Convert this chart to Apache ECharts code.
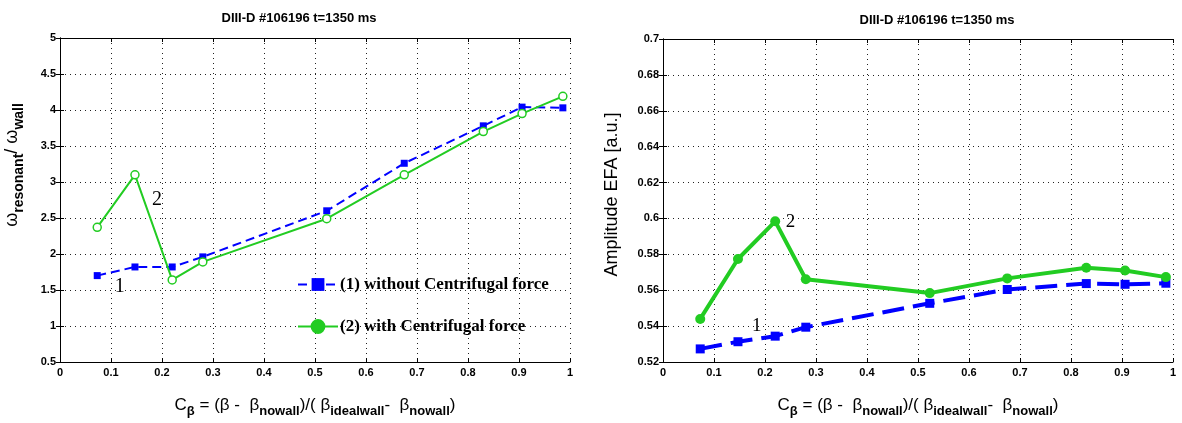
<html>
<head>
<meta http-equiv="Content-Type" content="text/html; charset=utf-8" />
<script src="https://cdn.jsdelivr.net/npm/echarts@6/dist/echarts.min.js"></script>
</head>
<body style="margin:0">
<div id="main" style="width:1182px;height:423px;"></div>
<script type="text/javascript">
// C_beta values (same for both panels)
var cbeta = [0.073, 0.147, 0.22, 0.28, 0.523, 0.675, 0.83, 0.906, 0.986];
// left panel: omega_resonant / omega_wall
var omegaNoCf = [1.70, 1.82, 1.82, 1.96, 2.60, 3.26, 3.78, 4.04, 4.03];
var omegaCf = [2.37, 3.10, 1.64, 1.89, 2.49, 3.10, 3.70, 3.95, 4.19];
// right panel: amplitude EFA
var efaNoCf = [0.5273, 0.5313, 0.5344, 0.5394, 0.5527, 0.5604, 0.5637, 0.5633, 0.5639];
var efaCf = [0.544, 0.5774, 0.5984, 0.5661, 0.5584, 0.5666, 0.5725, 0.571, 0.5673];

var titleText = 'DIII-D #106196 t=1350 ms';
var legendNames = ['(1) without Centrifugal force', '(2) with Centrifugal force'];

var BLUE = '#0000ff', GREEN = '#22cc22';
var SANS = 'Liberation Sans', SERIF = 'Liberation Serif';

function pairs(xs, ys) {
    return xs.map(function (x, i) { return [x, ys[i]]; });
}

var subRich = {
    m: { fontSize: 17, fontFamily: SANS, color: '#000' },
    s: { fontSize: 13, fontFamily: SANS, fontWeight: 'bold', color: '#000', padding: [13, 0, 0, 0] }
};
var xName = '{m|C}{s|β}{m| = (β -  β}{s|nowall}{m|)/( β}{s|idealwall}{m|-  β}{s|nowall}{m|)}';

var tickLabel = { fontSize: 11, fontWeight: 'bold', fontFamily: SANS, color: '#000' };
var dots = { color: '#222', type: [1, 4], width: 1 };
var titleStyle = { fontSize: 13, fontWeight: 'bold', fontFamily: SANS, color: '#000' };

function mainX(gi) {
    return {
        type: 'value', gridIndex: gi, min: 0, max: 1, interval: 0.1,
        axisLine: { lineStyle: { color: '#000', width: 1 } },
        axisTick: { inside: true, length: 4, lineStyle: { color: '#000' } },
        axisLabel: { margin: 5, textStyle: tickLabel },
        splitLine: { show: true, lineStyle: dots },
        name: xName, nameLocation: 'middle', nameGap: 30,
        nameTextStyle: { rich: subRich }
    };
}
function frameX(gi) {
    return {
        type: 'value', gridIndex: gi, position: 'top', min: 0, max: 1, interval: 0.1,
        axisLine: { lineStyle: { color: '#000' } },
        axisTick: { inside: true, length: 4, lineStyle: { color: '#000' } },
        axisLabel: { show: false }, splitLine: { show: false }
    };
}
function mainY(gi, min, max, step, digits, name, nameStyle, gap) {
    return {
        type: 'value', gridIndex: gi, min: min, max: max, interval: step,
        axisLine: { lineStyle: { color: '#000' } },
        axisTick: { inside: true, length: 4, lineStyle: { color: '#000' } },
        axisLabel: { margin: 4, textStyle: tickLabel,
            formatter: function (v) { return String(+v.toFixed(digits)); } },
        splitLine: { show: true, lineStyle: dots },
        name: name, nameLocation: 'middle', nameRotate: 90,
        nameGap: gap,
        nameTextStyle: nameStyle
    };
}
function frameY(gi, min, max, step) {
    return {
        type: 'value', gridIndex: gi, position: 'right', min: min, max: max, interval: step,
        axisLine: { lineStyle: { color: '#000' } },
        axisTick: { inside: true, length: 4, lineStyle: { color: '#000' } },
        axisLabel: { show: false }, splitLine: { show: false }
    };
}

function tag(txt, x, y, size) {
    return {
        coord: [x, y], symbol: 'circle', symbolSize: 0, value: txt,
        label: { show: true, position: 'inside', formatter: txt, color: '#000',
            fontFamily: SERIF, fontSize: size }
    };
}

var myChart = echarts.init(document.getElementById('main'));
myChart.setOption({
    animation: false,
    backgroundColor: '#fff',
    title: [
        { text: titleText, left: 294, top: 7, textAlign: 'center', textStyle: titleStyle },
        { text: titleText, left: 932, top: 9, textAlign: 'center', textStyle: titleStyle }
    ],
    grid: [
        { left: 60, top: 38, width: 510, height: 326 },
        { left: 663, top: 39, width: 510, height: 326 }
    ],
    legend: {
        orient: 'vertical', left: 292, top: 271, itemGap: 25, itemWidth: 40, itemHeight: 16,
        textStyle: { fontFamily: SERIF, fontSize: 17, fontWeight: 'bold', color: '#000', padding: [0, 0, 0, -3] },
        data: [
            { name: legendNames[0] },
            { name: legendNames[1], itemStyle: { color: GREEN, borderColor: GREEN } }
        ]
    },
    xAxis: [mainX(0), frameX(0), mainX(1), frameX(1)],
    yAxis: [
        mainY(0, 0.5, 5, 0.5, 1,
            '{m|ω}{s|resonant}{m|/ ω}{s|wall}',
            { rich: { m: { fontSize: 18, fontFamily: SANS, color: '#000' },
                      s: { fontSize: 14, fontFamily: SANS, fontWeight: 'bold', color: '#000', padding: [13, 0, 0, 0] } },
              padding: [0, 0, 0, 70] }, 34),
        frameY(0, 0.5, 5, 0.5),
        mainY(1, 0.52, 0.7, 0.02, 2, 'Amplitude EFA [a.u.]',
            { fontSize: 18, fontFamily: SANS, color: '#000', padding: [0, 0, 0, 12] }, 42),
        frameY(1, 0.52, 0.7, 0.02)
    ],
    series: [
        {
            name: legendNames[0], type: 'line', xAxisIndex: 0, yAxisIndex: 0,
            data: pairs(cbeta, omegaNoCf),
            symbol: 'rect', symbolSize: 7,
            itemStyle: { color: BLUE },
            lineStyle: { color: BLUE, width: 2, type: [9, 5] },
            markPoint: { data: [tag('1', 0.117, 1.55, 20)] },
            z: 2
        },
        {
            name: legendNames[1], type: 'line', xAxisIndex: 0, yAxisIndex: 0,
            data: pairs(cbeta, omegaCf),
            symbol: 'circle', symbolSize: 8,
            itemStyle: { color: '#fff', borderColor: GREEN, borderWidth: 1.5 },
            lineStyle: { color: GREEN, width: 2 },
            markPoint: { data: [tag('2', 0.19, 2.755, 20)] },
            z: 3
        },
        {
            name: 'efa1', type: 'line', xAxisIndex: 2, yAxisIndex: 2,
            data: pairs(cbeta, efaNoCf),
            symbol: 'rect', symbolSize: 9,
            itemStyle: { color: BLUE },
            lineStyle: { color: BLUE, width: 4, type: [22, 9] },
            markPoint: { data: [tag('1', 0.184, 0.54, 19)] },
            z: 2
        },
        {
            name: 'efa2', type: 'line', xAxisIndex: 2, yAxisIndex: 2,
            data: pairs(cbeta, efaCf),
            symbol: 'circle', symbolSize: 10,
            itemStyle: { color: GREEN },
            lineStyle: { color: GREEN, width: 4 },
            markPoint: { data: [tag('2', 0.25, 0.598, 19)] },
            z: 3
        }
    ]
});
</script>
</body>
</html>
